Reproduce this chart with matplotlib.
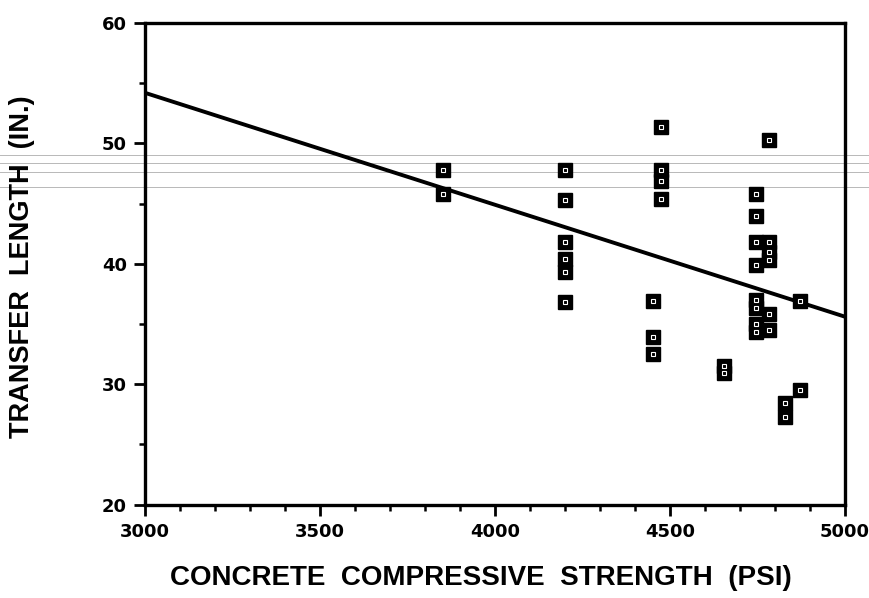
import numpy as np
import matplotlib
matplotlib.use("Agg")
import matplotlib.pyplot as plt
from matplotlib.ticker import MultipleLocator
from matplotlib.lines import Line2D

# Data
strength = [3850, 3850,
            4200, 4200, 4200, 4200, 4200, 4200,
            4450, 4450, 4450,
            4475, 4475, 4475, 4475,
            4655, 4655,
            4745, 4745, 4745, 4745, 4745, 4745, 4745, 4745,
            4783, 4783, 4783, 4783, 4783, 4783,
            4828, 4828,
            4870, 4870]
transfer_length = [47.8, 45.8,
                   47.8, 45.3, 41.8, 40.4, 39.3, 36.8,
                   36.9, 33.9, 32.5,
                   51.4, 47.8, 46.9, 45.4,
                   31.5, 30.9,
                   45.8, 44.0, 41.8, 39.9, 37.0, 36.3, 35.0, 34.3,
                   50.3, 41.8, 41.0, 40.3, 35.8, 34.5,
                   28.4, 27.3,
                   36.9, 29.5]
fit_x = [3000, 5000]
fit_y = [54.2, 35.6]

x_ticks = [3000, 3500, 4000, 4500, 5000]
y_ticks = [20, 30, 40, 50, 60]

plt.rcParams['font.family'] = ['Liberation Sans', 'DejaVu Sans']

fig = plt.figure(figsize=(8.7, 5.98), dpi=100)
ax = fig.add_axes([145/870, 1-504.5/598, (845-145)/870, (504.5-23)/598])
ax.set_facecolor('none')

ax.plot(fit_x, fit_y, color='black', lw=2.8, solid_capstyle='butt', zorder=2)
ax.plot(strength, transfer_length, linestyle='none', marker='s', markersize=10.5,
        markerfacecolor='black', markeredgecolor='black', zorder=3)
ax.plot(strength, transfer_length, linestyle='none', marker='s', markersize=3.5,
        markerfacecolor='none', markeredgecolor='white', markeredgewidth=0.8, zorder=4)

ax.set_xlim(3000, 5000)
ax.set_ylim(20, 60)
ax.set_xticks(x_ticks)
ax.set_yticks(y_ticks)
ax.xaxis.set_minor_locator(MultipleLocator(100))
ax.yaxis.set_minor_locator(MultipleLocator(5))
ax.tick_params(axis='both', which='major', direction='out', length=8, width=2,
               pad=5)
ax.tick_params(axis='both', which='minor', direction='out', length=4, width=1.8)
for s in ax.spines.values():
    s.set_linewidth(2.4)
for lab in ax.get_xticklabels() + ax.get_yticklabels():
    lab.set_fontfamily('DejaVu Sans')
    lab.set_fontweight('bold')
    lab.set_fontsize(13)

fig.text(481/870, 1-578/598, 'CONCRETE  COMPRESSIVE  STRENGTH  (PSI)',
         fontsize=20, fontweight='bold', ha='center', va='center')
fig.text(22/870, 1-267/598, 'TRANSFER  LENGTH  (IN.)', rotation=90,
         fontsize=19.5, fontweight='bold', ha='center', va='center')

# faint scan lines across the page
for yp in [155, 163, 172, 187]:
    fig.add_artist(Line2D([0, 1], [1-yp/598, 1-yp/598], transform=fig.transFigure,
                          color='#b8b8b8', lw=0.7, zorder=0))

fig.savefig('out.png', dpi=100, facecolor='white')
